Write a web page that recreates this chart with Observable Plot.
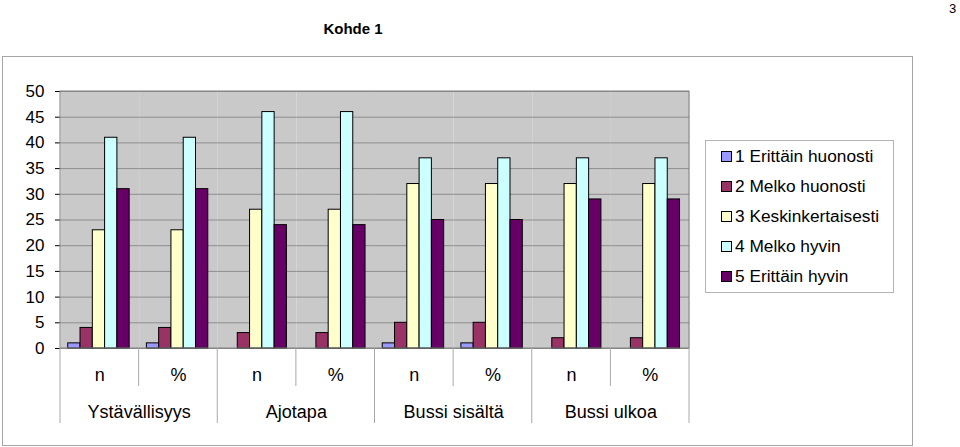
<!DOCTYPE html>
<html><head><meta charset="utf-8">
<script src="https://cdn.jsdelivr.net/npm/d3@7"></script>
<script src="https://cdn.jsdelivr.net/npm/@observablehq/plot@0.6"></script>
<style>
body{margin:0;background:#fff;font-family:"Liberation Sans",Arial,sans-serif;}
#wrap{position:relative;width:960px;height:447px;overflow:hidden;background:#fff;}
#outer{position:absolute;left:2px;top:56px;width:911px;height:390px;box-sizing:border-box;border:1px solid #a6a6a6;}
#title{position:absolute;left:253px;width:200px;top:21px;line-height:15px;font-size:15px;font-weight:bold;text-align:center;}
#page{position:absolute;left:949px;top:2px;line-height:13px;font-size:13px;}
#chart{position:absolute;left:0;top:0;}
#legend{position:absolute;left:705px;top:140px;width:189px;height:153px;box-sizing:border-box;border:1px solid #b4b4b4;background:#fff;}
.row{display:flex;align-items:center;height:30px;font-size:17.3px;}
.sw{width:11px;height:11px;box-sizing:border-box;border:1px solid #000;margin-left:15px;margin-right:3px;}
</style></head><body>
<div id="wrap">
  <div id="outer"></div>
  <div id="title">Kohde 1</div>
  <div id="page">3</div>
  <div id="chart"></div>
  <div id="legend"></div>
</div>
<script>
const categories = ["Ystävällisyys", "Ajotapa", "Bussi sisältä", "Bussi ulkoa"];
const measures = ["n", "%"];
const seriesNames = ["1 Erittäin huonosti", "2 Melko huonosti", "3 Keskinkertaisesti", "4 Melko hyvin", "5 Erittäin hyvin"];
const seriesColors = ["#9999ff", "#993366", "#ffffcc", "#ccffff", "#660066"];
const yTicks = [0, 5, 10, 15, 20, 25, 30, 35, 40, 45, 50];

const ystavallisyysN   = [1, 4, 23, 41, 31];
const ystavallisyysPct = [1, 4, 23, 41, 31];
const ajotapaN         = [0, 3, 27, 46, 24];
const ajotapaPct       = [0, 3, 27, 46, 24];
const sisaltaN         = [1, 5, 32, 37, 25];
const sisaltaPct       = [1, 5, 32, 37, 25];
const ulkoaN           = [0, 2, 32, 37, 29];
const ulkoaPct         = [0, 2, 32, 37, 29];

const valuesByGroup = [ystavallisyysN, ystavallisyysPct, ajotapaN, ajotapaPct, sisaltaN, sisaltaPct, ulkoaN, ulkoaPct];
const groupKeys = categories.flatMap(c => measures.map(m => c + "|" + m));
const data = groupKeys.flatMap((g, i) => seriesNames.map((s, j) => ({group: g, series: s, value: valuesByGroup[i][j]})));

const plot = Plot.plot({
  width: 960, height: 447,
  marginLeft: 60, marginRight: 271, marginTop: 91, marginBottom: 99,
  style: {fontFamily: "'Liberation Sans', Arial, sans-serif", fontSize: "18px", background: "transparent", overflow: "visible", color: "#000"},
  fx: {domain: groupKeys, padding: 0, round: false, axis: "bottom", tickSize: 0, tickPadding: 20, label: null, tickFormat: d => d.split("|")[1]},
  x: {domain: seriesNames, paddingInner: 0, paddingOuter: 0.7, align: 0.45, round: false, axis: null},
  y: {domain: [0, 50], ticks: yTicks, tickSize: 5, tickPadding: 11, label: null},
  color: {domain: seriesNames, range: seriesColors},
  marks: [
    Plot.frame({fill: "#c9c9c9", stroke: null}),
    Plot.ruleY(yTicks, {stroke: "#8e8e8e", strokeWidth: 1}),
    Plot.barY(data.filter(d => d.value > 0), {fx: "group", x: "series", y: "value", fill: "series", stroke: "#000", strokeWidth: 1}),
    Plot.text(categories, {fx: d => d + "|n", text: d => d, frameAnchor: "bottom-right", textAnchor: "middle", lineAnchor: "middle", dy: 64, fontSize: 18, fill: "#000"})
  ]
});
document.getElementById("chart").appendChild(plot);

// axis decorations derived from the scales
const svg = d3.select(plot);
svg.selectAll('g[aria-label="y-axis tick label"]').attr("font-size", 17);
svg.selectAll('g[aria-label="y-axis tick"]').attr("stroke", "#808080");
const fxS = plot.scale("fx");
const yS = plot.scale("y");
const [r0, r1] = fxS.range;
const [yBottom, yTop] = yS.range;
const step = (r1 - r0) / groupKeys.length;
const g = svg.append("g");
g.append("rect").attr("x", r0).attr("y", yTop).attr("width", r1 - r0).attr("height", yBottom - yTop)
  .attr("fill", "none").attr("stroke", "#808080");
for (let i = 0; i <= groupKeys.length; i++) {
  const x = r0 + i * step;
  const len = (i % measures.length === 0) ? 75 : 38;
  g.append("line").attr("x1", x).attr("x2", x).attr("y1", yBottom).attr("y2", yBottom + len)
    .attr("stroke", "#a8a8a8");
}

// legend
const legend = d3.select("#legend");
seriesNames.forEach((s, i) => {
  const row = legend.append("div").attr("class", "row");
  row.append("div").attr("class", "sw").style("background", seriesColors[i]);
  row.append("span").text(s);
});
</script>
</body></html>
